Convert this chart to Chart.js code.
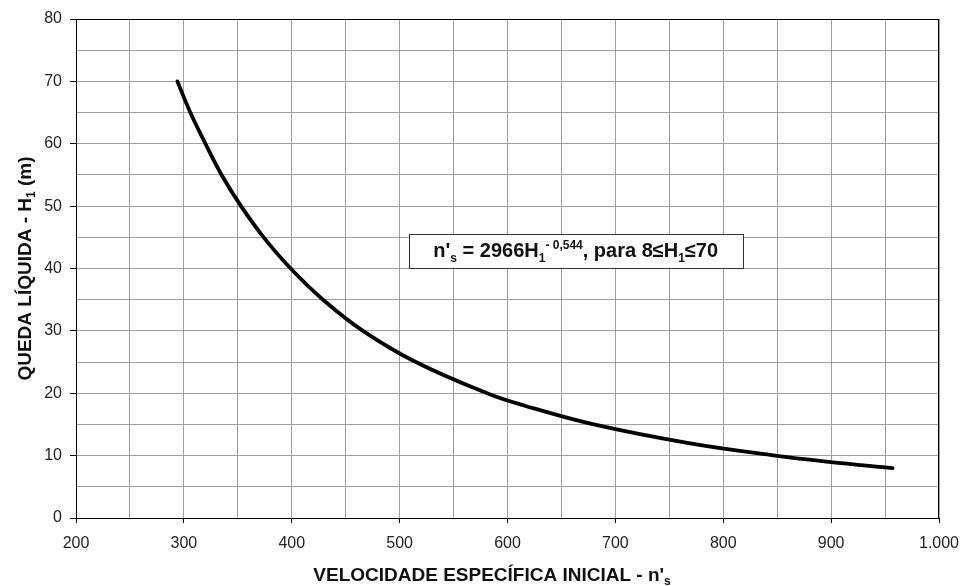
<!DOCTYPE html>
<html>
<head>
<meta charset="utf-8">
<script src="https://cdn.jsdelivr.net/npm/chart.js@4.4.1/dist/chart.umd.min.js"></script>
<style>
  html, body { margin: 0; padding: 0; background: #fff; }
  #wrap { width: 960px; height: 586px; }
</style>
</head>
<body>
<div id="wrap"><canvas id="grafico"></canvas></div>
<script>
// queda liquida H1 (m) e velocidade especifica n's
var quedaH       = [70, 65, 60, 55, 50, 45, 40, 35, 30, 25, 20, 18, 15, 12, 10, 9, 8];
var velocidadeNs = [294, 306, 320, 335, 353, 374, 399, 429, 466, 515, 581, 616, 680, 768, 848, 898, 957];

var xTickValues = [200, 300, 400, 500, 600, 700, 800, 900, 1000];
var xTickLabels = ['200', '300', '400', '500', '600', '700', '800', '900', '1.000'];
var yTickValues = [0, 10, 20, 30, 40, 50, 60, 70, 80];
var yTickLabels = ['0', '10', '20', '30', '40', '50', '60', '70', '80'];

var FONT = '"Liberation Sans", Arial, Helvetica, sans-serif';

var pontos = [];
for (var i = 0; i < quedaH.length; i++) {
	pontos.push({ x: velocidadeNs[i], y: quedaH[i] });
}

// desenha texto com partes em subscrito / sobrescrito
function drawRich(ctx, parts, x, y, size, weight, align) {
	var small = Math.round(size * 0.62);
	var total = 0;
	parts.forEach(function (p) {
		ctx.font = weight + ' ' + (p.m ? small : size) + 'px ' + FONT;
		p.w = ctx.measureText(p.t).width;
		total += p.w;
	});
	var cx = align === 'center' ? x - total / 2 : x;
	ctx.textAlign = 'left';
	ctx.textBaseline = 'alphabetic';
	parts.forEach(function (p) {
		ctx.font = weight + ' ' + (p.m ? small : size) + 'px ' + FONT;
		var dy = 0;
		if (p.m === 'sub') dy = size * 0.22;
		if (p.m === 'sup') dy = -size * 0.42;
		ctx.fillText(p.t, cx, y + dy);
		cx += p.w;
	});
}

var extras = {
	id: 'extras',
	afterDraw: function (chart) {
		var ctx = chart.ctx;
		var a = chart.chartArea;
		var sx = chart.scales.x, sy = chart.scales.y;
		ctx.save();

		// moldura da area do grafico
		ctx.strokeStyle = '#000';
		ctx.lineWidth = 1;
		ctx.strokeRect(Math.round(a.left) + 0.5, Math.round(a.top) + 0.5,
			Math.round(a.right - a.left) - 1, Math.round(a.bottom - a.top));

		// caixa da equacao
		var bx1 = sx.getPixelForValue(508.5), bx2 = sx.getPixelForValue(818);
		var by1 = sy.getPixelForValue(45.5), by2 = sy.getPixelForValue(40.1);
		ctx.fillStyle = '#fff';
		ctx.fillRect(bx1, by1, bx2 - bx1, by2 - by1);
		ctx.strokeStyle = '#333';
		ctx.strokeRect(Math.round(bx1) + 0.5, Math.round(by1) + 0.5, Math.round(bx2 - bx1), Math.round(by2 - by1));
		ctx.fillStyle = '#111';
		drawRich(ctx, [
			{ t: 'n\'' }, { t: 's', m: 'sub' }, { t: ' = 2966H' }, { t: '1', m: 'sub' },
			{ t: '- 0,544', m: 'sup' }, { t: ', para 8≤H' }, { t: '1', m: 'sub' }, { t: '≤70' }
		], (bx1 + bx2) / 2, by1 + 23, 20, 'bold', 'center');

		// titulo do eixo x
		drawRich(ctx, [
			{ t: 'VELOCIDADE ESPECÍFICA INICIAL - n\'' }, { t: 's', m: 'sub' }
		], 492, 581, 19, 'bold', 'center');

		// titulo do eixo y
		ctx.translate(31, (a.top + a.bottom) / 2);
		ctx.rotate(-Math.PI / 2);
		drawRich(ctx, [
			{ t: 'QUEDA LÍQUIDA - H' }, { t: '1', m: 'sub' }, { t: ' (m)' }
		], 0, 0, 19, 'bold', 'center');
		ctx.restore();
	}
};

new Chart(document.getElementById('grafico'), {
	type: 'scatter',
	data: {
		datasets: [{
			data: pontos,
			showLine: true,
			borderColor: '#000',
			borderWidth: 3.8,
			pointRadius: 0,
			tension: 0.4,
			borderCapStyle: 'round'
		}]
	},
	options: {
		responsive: true,
		maintainAspectRatio: false,
		animation: false,
		layout: { padding: { left: 0, top: 19, right: 21, bottom: 0 } },
		plugins: {
			legend: { display: false },
			tooltip: { enabled: false }
		},
		scales: {
			x: {
				type: 'linear',
				min: 200, max: 1000,
				afterFit: function (s) { s.height = 68; s.paddingLeft = 0; s.paddingRight = 0; },
				border: { color: '#000', width: 1 },
				grid: {
					color: '#a0a0a0',
					tickLength: 5,
					tickColor: function (c) {
						return c.tick && xTickValues.indexOf(c.tick.value) >= 0 ? '#000' : 'rgba(0,0,0,0)';
					}
				},
				ticks: {
					stepSize: 50,
					autoSkip: false,
					maxRotation: 0,
					padding: 11,
					color: '#222',
					font: { family: FONT, size: 16 },
					callback: function (v) {
						var k = xTickValues.indexOf(v);
						return k >= 0 ? xTickLabels[k] : '';
					}
				}
			},
			y: {
				min: 0, max: 80,
				afterFit: function (s) { s.width = 76; s.paddingTop = 0; s.paddingBottom = 0; },
				border: { color: '#000', width: 1 },
				grid: {
					color: '#a0a0a0',
					tickLength: 6,
					tickColor: function (c) {
						return c.tick && yTickValues.indexOf(c.tick.value) >= 0 ? '#000' : 'rgba(0,0,0,0)';
					}
				},
				ticks: {
					stepSize: 5,
					autoSkip: false,
					padding: 8,
					color: '#222',
					font: { family: FONT, size: 16 },
					callback: function (v) {
						var k = yTickValues.indexOf(v);
						return k >= 0 ? yTickLabels[k] : '';
					}
				}
			}
		}
	},
	plugins: [extras]
});
</script>
</body>
</html>
